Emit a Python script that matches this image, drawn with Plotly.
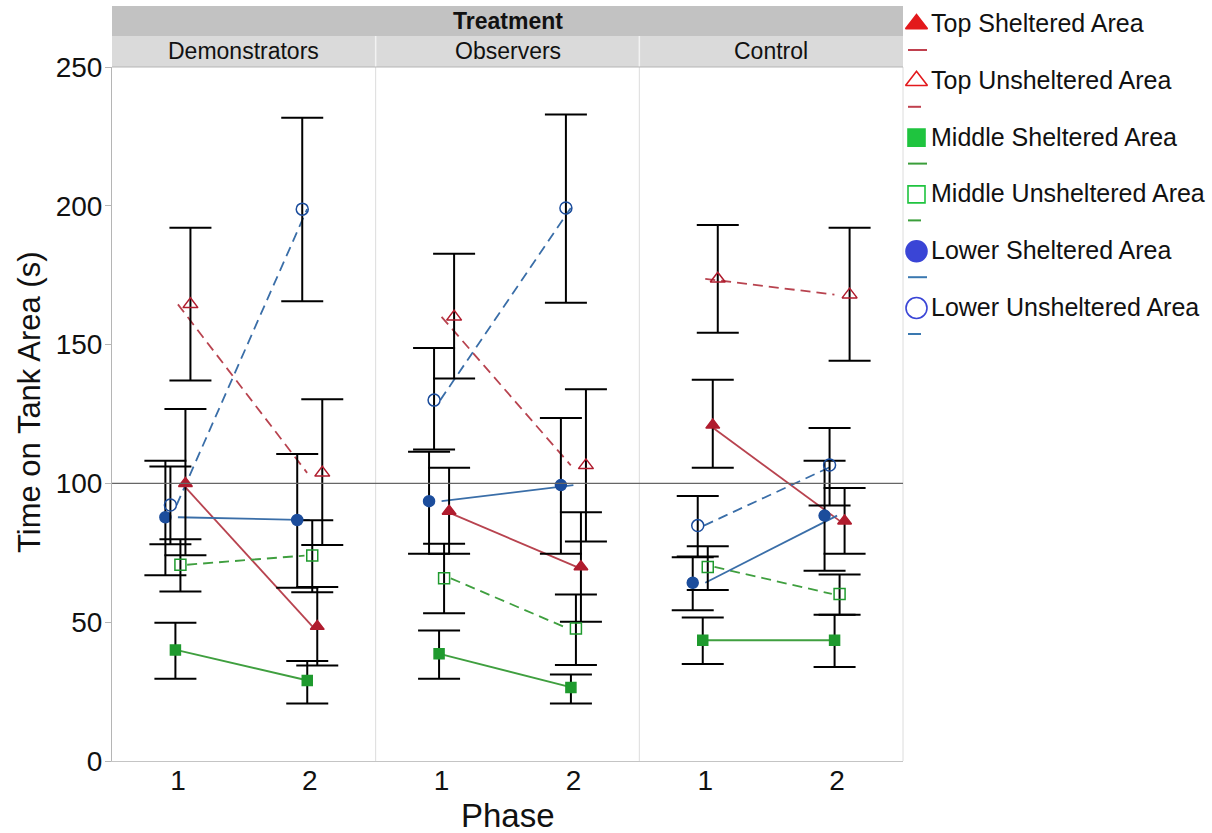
import plotly.graph_objects as go

# ---------------- data ----------------
panels = ["Demonstrators", "Observers", "Control"]
phases = [1, 2]
series = ["Top Sheltered Area", "Top Unsheltered Area", "Middle Sheltered Area",
          "Middle Unsheltered Area", "Lower Sheltered Area", "Lower Unsheltered Area"]

# means per panel: [phase1, phase2]
top_sh_mean   = [[100.0, 48.5], [90.0, 70.0], [121.0, 86.5]]
top_un_mean   = [[164.5, 103.8], [160.0, 106.5], [173.7, 168.0]]
mid_sh_mean   = [[40.0, 29.0], [38.6, 26.5], [43.5, 43.5]]
mid_un_mean   = [[70.7, 74.0], [65.8, 47.7], [69.9, 60.2]]
low_sh_mean   = [[87.8, 86.8], [93.6, 99.4], [64.2, 88.4]]
low_un_mean   = [[92.2, 198.8], [130.0, 199.2], [84.8, 106.6]]

# error bar bounds per panel: [[lo1, hi1], [lo2, hi2]]
top_sh_ci = [[[74.1, 126.8], [34.4, 62.7]], [[74.7, 105.6], [50.2, 89.6]], [[105.6, 137.3], [74.7, 98.3]]]
top_un_ci = [[[137.1, 192.1], [77.8, 130.3]], [[137.8, 182.7], [79.1, 133.9]], [[154.3, 193.1], [144.2, 192.1]]]
mid_sh_ci = [[[29.6, 49.8], [20.7, 36.0]], [[29.6, 47.0], [20.7, 31.2]], [[34.9, 51.7], [33.9, 52.7]]]
mid_un_ci = [[[61.1, 79.9], [60.8, 86.7]], [[53.2, 78.3], [34.6, 60.0]], [[61.6, 77.4], [52.7, 67.2]]]
low_sh_ci = [[[66.9, 108.2], [62.4, 110.6]], [[74.7, 111.4], [74.7, 123.6]], [[54.3, 73.4], [68.5, 108.2]]]
low_un_ci = [[[78.1, 106.1], [165.6, 231.7]], [[112.2, 148.8], [165.1, 232.9]], [[73.7, 95.5], [92.0, 120.0]]]

reference_line = 100
y_ticks = [0, 50, 100, 150, 200, 250]

# ---------------- styles ----------------
RED_M, GRN_M, BLU_M = "#b01c2e", "#1f9a2e", "#1c4d9c"
RED_L, GRN_L, BLU_L = "#b8434f", "#3f9f3f", "#3a6ea8"
DASH = "10px,6px"
styles = [
    dict(sym="triangle-up", size=12, mc=RED_M, lc=RED_L, dash="solid", dx=0.057, ldx=(0.03, 0.02)),
    dict(sym="triangle-up-open", size=13, mc=RED_M, lc=RED_L, dash=DASH, dx=0.095, ldx=(0.0, -0.02)),
    dict(sym="square", size=10, mc=GRN_M, lc=GRN_L, dash="solid", dx=-0.019, ldx=(-0.015, -0.015)),
    dict(sym="square-open", size=11, mc=GRN_M, lc=GRN_L, dash=DASH, dx=0.019, ldx=(0.07, -0.04)),
    dict(sym="circle", size=11, mc=BLU_M, lc=BLU_L, dash="solid", dx=-0.095, ldx=(0.0, 0.0)),
    dict(sym="circle-open", size=12, mc=BLU_M, lc=BLU_L, dash=DASH, dx=-0.057, ldx=(-0.01, -0.02)),
]
means = [top_sh_mean, top_un_mean, mid_sh_mean, mid_un_mean, low_sh_mean, low_un_mean]
cis = [top_sh_ci, top_un_ci, mid_sh_ci, mid_un_ci, low_sh_ci, low_un_ci]

FONT = "Arial, 'Liberation Sans', sans-serif"
W, H = 1212, 833
PL, PR = 112 / W, 903 / W
PB, PT = (H - 761) / H, (H - 67) / H
third = (PR - PL) / 3
xdomains = [[PL + i * third, PL + (i + 1) * third] for i in range(3)]

fig = go.Figure()
xnames = ["x", "x2", "x3"]

# connecting lines first
for p in range(3):
    for s in range(6):
        st = styles[s]
        fig.add_trace(go.Scatter(
            x=[phases[0] + st["ldx"][0], phases[1] + st["ldx"][1]],
            y=means[s][p], mode="lines", xaxis=xnames[p], yaxis="y",
            line=dict(color=st["lc"], width=1.8, dash=st["dash"]),
            showlegend=False, hoverinfo="skip"))

# markers with error bars
for p in range(3):
    for s in range(6):
        st = styles[s]
        m = means[s][p]
        lo = [ci[0] for ci in cis[s][p]]
        hi = [ci[1] for ci in cis[s][p]]
        fig.add_trace(go.Scatter(
            x=[ph + st["dx"] for ph in phases], y=m, mode="markers",
            xaxis=xnames[p], yaxis="y",
            marker=dict(symbol=st["sym"], size=st["size"], color=st["mc"],
                        line=dict(color=st["mc"], width=1.5)),
            error_y=dict(type="data", symmetric=False,
                         array=[h - v for h, v in zip(hi, m)],
                         arrayminus=[v - l for v, l in zip(m, lo)],
                         color="black", thickness=2, width=21),
            name=series[s], showlegend=False))

# legend drawn in its own invisible axis (pixel-like coordinates)
leg_marker_colors = ["#e3191c", "#e3191c", "#1fc43f", "#1fc43f", "#3a45d6", "#3a45d6"]
leg_line_colors = ["#c0404e", "#c0404e", "#3a9e3a", "#3a9e3a", "#3a78b0", "#3a78b0"]
leg_syms = ["triangle-up", "triangle-up-open", "square", "square-open", "circle", "circle-open"]
leg_sizes = [19, 19, 17, 17, 21, 21]
leg_y0, leg_step = 23, 56.8
for s in range(6):
    yc = leg_y0 + s * leg_step
    fig.add_trace(go.Scatter(
        x=[916.5], y=[yc + 1], mode="markers", xaxis="x4", yaxis="y4",
        marker=dict(symbol=leg_syms[s], size=leg_sizes[s], color=leg_marker_colors[s],
                    line=dict(color=leg_marker_colors[s], width=1.6)),
        showlegend=False, hoverinfo="skip"))
    seg_end = 927 if s % 2 == 0 else 921
    fig.add_trace(go.Scatter(
        x=[908, seg_end], y=[yc + 27, yc + 27], mode="lines", xaxis="x4", yaxis="y4",
        line=dict(color=leg_line_colors[s], width=2),
        showlegend=False, hoverinfo="skip"))
    fig.add_annotation(x=929, y=yc, xref="x4", yref="y4", text=series[s],
                       showarrow=False, xanchor="left", yanchor="middle",
                       font=dict(family=FONT, size=25, color="#111"))

layout = dict(
    width=W, height=H, margin=dict(l=0, r=0, t=0, b=0, autoexpand=False),
    paper_bgcolor="white", plot_bgcolor="white", showlegend=False,
    yaxis=dict(domain=[PB, PT], range=[0, 250], tickvals=y_ticks, anchor="x",
               automargin=False, ticklabelstandoff=-3,
               showgrid=False, zeroline=False, showline=True, linecolor="#b5b5b5",
               ticks="outside", ticklen=6, tickcolor="#b5b5b5",
               tickfont=dict(family=FONT, size=28, color="#111")),
    xaxis4=dict(domain=[PR, 1], range=[903, 1212], visible=False, anchor="y4", automargin=False),
    yaxis4=dict(domain=[0, 1], range=[H, 0], visible=False, anchor="x4", automargin=False),
)
for i, xn in enumerate(["xaxis", "xaxis2", "xaxis3"]):
    layout[xn] = dict(domain=xdomains[i], range=[0.5, 2.5], tickvals=phases, anchor="y",
                      automargin=False, ticklabelstandoff=-6,
                      showgrid=False, zeroline=False, showline=True, linecolor="#c4c4c4",
                      ticks="", tickfont=dict(family=FONT, size=28, color="#111"))
fig.update_layout(**layout)

shapes = []
# reference line
shapes.append(dict(type="line", xref="paper", yref="y", x0=PL, x1=PR,
                   y0=reference_line, y1=reference_line, line=dict(color="#666666", width=1.2)))
# panel separators / right border
for i in range(1, 4):
    xs = PL + i * third
    shapes.append(dict(type="line", xref="paper", yref="paper", x0=xs, x1=xs, y0=PB, y1=PT,
                       line=dict(color="#dcdcdc", width=1), layer="below"))
# strips
S1_top, S1_bot = (H - 6) / H, (H - 36) / H
shapes.append(dict(type="rect", xref="paper", yref="paper", x0=PL, x1=PR, y0=S1_bot, y1=S1_top,
                   fillcolor="#c2c2c2", line=dict(width=0)))
shapes.append(dict(type="rect", xref="paper", yref="paper", x0=PL, x1=PR, y0=PT, y1=S1_bot,
                   fillcolor="#dadada", line=dict(width=0)))
for i in range(1, 3):
    xs = PL + i * third
    shapes.append(dict(type="line", xref="paper", yref="paper", x0=xs, x1=xs, y0=PT, y1=S1_bot,
                       line=dict(color="#f2f2f2", width=1.5)))
shapes.append(dict(type="line", xref="paper", yref="paper", x0=PL, x1=PR, y0=PT, y1=PT,
                   line=dict(color="#b5b5b5", width=1)))
fig.update_layout(shapes=shapes)

# strip texts
fig.add_annotation(x=(PL + PR) / 2, y=(S1_top + S1_bot) / 2, xref="paper", yref="paper",
                   text="<b>Treatment</b>", showarrow=False, xanchor="center", yanchor="middle",
                   font=dict(family=FONT, size=23, color="#111"))
for i, name in enumerate(panels):
    fig.add_annotation(x=(xdomains[i][0] + xdomains[i][1]) / 2, y=(PT + S1_bot) / 2,
                       xref="paper", yref="paper", text=name, showarrow=False,
                       xanchor="center", yanchor="middle",
                       font=dict(family=FONT, size=23, color="#111"))
# axis titles
fig.add_annotation(x=29 / W, y=(H - 402) / H, xref="paper", yref="paper",
                   text="Time on Tank Area (s)", textangle=-90, showarrow=False,
                   xanchor="center", yanchor="middle",
                   font=dict(family=FONT, size=31, color="#111"))
fig.add_annotation(x=(PL + PR) / 2, y=(H - 815) / H, xref="paper", yref="paper",
                   text="Phase", showarrow=False, xanchor="center", yanchor="middle",
                   font=dict(family=FONT, size=33, color="#111"))

fig.write_html("out.html")
